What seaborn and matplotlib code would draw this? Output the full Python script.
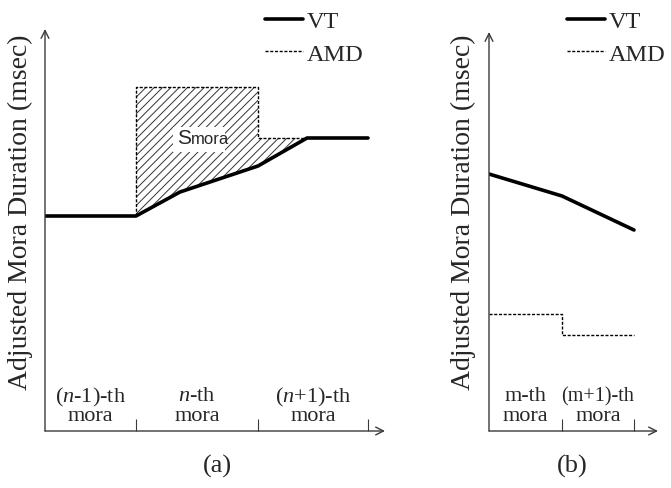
import numpy as np
import matplotlib
matplotlib.use('Agg')
import matplotlib.pyplot as plt
import seaborn as sns

# Dados do esquema (a): limites das moras e as curvas VT / AMD
mora_edges_a = [0, 91, 213, 323]
mora_labels_a = [('($n$-1)-th', 'mora'), ('$n$-th', 'mora'), ('($n$+1)-th', 'mora')]
vt_a_x = [0, 91, 135, 213, 262, 323]
vt_a_y = [215, 215, 239, 265, 293, 293]
amd_a_x = [91, 91, 213, 213, 262]
amd_a_y = [215, 344, 344, 293, 293]

# Dados do esquema (b)
mora_edges_b = [0, 73, 145]
mora_labels_b = [('m-th', 'mora'), ('(m+1)-th', 'mora')]
vt_b_x = [0, 73, 145]
vt_b_y = [257, 235, 201]
amd_b_x = [0, 73, 73, 145]
amd_b_y = [117, 117, 96, 96]

sns.set_theme(style='white')
plt.rcParams['font.family'] = ['Liberation Serif', 'DejaVu Serif']
plt.rcParams['mathtext.fontset'] = 'custom'
plt.rcParams['mathtext.rm'] = 'Liberation Serif'
plt.rcParams['mathtext.it'] = 'Liberation Serif:italic'
plt.rcParams['hatch.linewidth'] = 0.7

W, H = 671, 489
fig = plt.figure(figsize=(W / 100, H / 100), dpi=100)
ax_a = fig.add_axes([45 / W, 57 / H, 340 / W, 402 / H])
ax_b = fig.add_axes([489 / W, 57 / H, 169 / W, 399 / H])

axis_color = '#3a3a3a'
dash = (0, (2.2, 1.2))


def setup_axes(ax, edges, labels, w, h):
    ax.set_xlim(0, w)
    ax.set_ylim(0, h)
    for s in ax.spines.values():
        s.set_visible(False)
    ax.patch.set_alpha(0)
    # eixos com setas
    ax.annotate('', xy=(1, 0), xytext=(0, 0), xycoords='axes fraction',
                arrowprops=dict(arrowstyle='->', lw=1, color=axis_color, mutation_scale=14,
                                shrinkA=0, shrinkB=0))
    ax.annotate('', xy=(0, 1), xytext=(0, 0), xycoords='axes fraction',
                arrowprops=dict(arrowstyle='->', lw=1, color=axis_color, mutation_scale=14,
                                shrinkA=0, shrinkB=0))
    ax.set_yticks([])
    ax.set_xticks(edges[1:])
    ax.set_xticklabels([])
    ax.tick_params(axis='x', direction='in', length=9, width=0.8, color=axis_color, bottom=True)
    ax.set_xlabel('')
    ax.set_ylabel('')
    mids = [(edges[i] + edges[i + 1]) / 2 for i in range(len(edges) - 1)]
    for m, (l1, l2) in zip(mids, labels):
        fs1 = 14.5 if 'm+' in l1 else 16
        ax.text(m, 35, l1, ha='center', va='center', fontsize=fs1)
        ax.text(m, 15, l2, ha='center', va='center', fontsize=16)


# Painel (a)
poly_x = np.concatenate([amd_a_x, vt_a_x[::-1][1:5]])
poly_y = np.concatenate([amd_a_y, vt_a_y[::-1][1:5]])
ax_a.fill(poly_x, poly_y, facecolor='none', edgecolor='#333333', hatch='////', linewidth=0)
sns.lineplot(x=amd_a_x, y=amd_a_y, ax=ax_a, color='black', lw=1, linestyle=dash,
             estimator=None, sort=False, label='AMD')
sns.lineplot(x=vt_a_x, y=vt_a_y, ax=ax_a, color='black', lw=2.6,
             estimator=None, sort=False, label='VT')
# rótulo S_mora (sans-serif, fundo branco)
ax_a.add_patch(plt.Rectangle((128, 279), 52, 25, facecolor='white', edgecolor='none', zorder=3))
ax_a.text(132, 288, 'S', fontsize=15, family='Liberation Sans', ha='left', va='baseline', zorder=4)
ax_a.text(145.5, 288, 'mora', fontsize=12, family='Liberation Sans', ha='left', va='baseline', zorder=4)
setup_axes(ax_a, mora_edges_a, mora_labels_a, 340, 402)

# Painel (b)
sns.lineplot(x=amd_b_x, y=amd_b_y, ax=ax_b, color='black', lw=1, linestyle=dash,
             estimator=None, sort=False, label='AMD')
sns.lineplot(x=vt_b_x, y=vt_b_y, ax=ax_b, color='black', lw=2.6,
             estimator=None, sort=False, label='VT')
setup_axes(ax_b, mora_edges_b, mora_labels_b, 169, 399)

# Legendas (VT primeiro)
for ax, lx in [(ax_a, 265), (ax_b, 567)]:
    handles, labels = ax.get_legend_handles_labels()
    ax.legend(handles[::-1], labels[::-1], loc='upper left', bbox_to_anchor=(lx / W, 1 - 11 / H),
              bbox_transform=fig.transFigure, frameon=False, fontsize=17.5, handlelength=1.55,
              handletextpad=0.18, labelspacing=0.45, borderpad=0, borderaxespad=0)

# Rótulos dos eixos y e legendas (a), (b)
fig.text(20 / W, 1 - 212 / H, 'Adjusted Mora Duration (msec)', rotation=90,
         ha='center', va='center', fontsize=20)
fig.text(463 / W, 1 - 212 / H, 'Adjusted Mora Duration (msec)', rotation=90,
         ha='center', va='center', fontsize=20)
fig.text(217 / W, 1 - 466 / H, '(a)', ha='center', va='center', fontsize=19)
fig.text(572 / W, 1 - 466 / H, '(b)', ha='center', va='center', fontsize=19)

fig.savefig('out.png', dpi=100)
